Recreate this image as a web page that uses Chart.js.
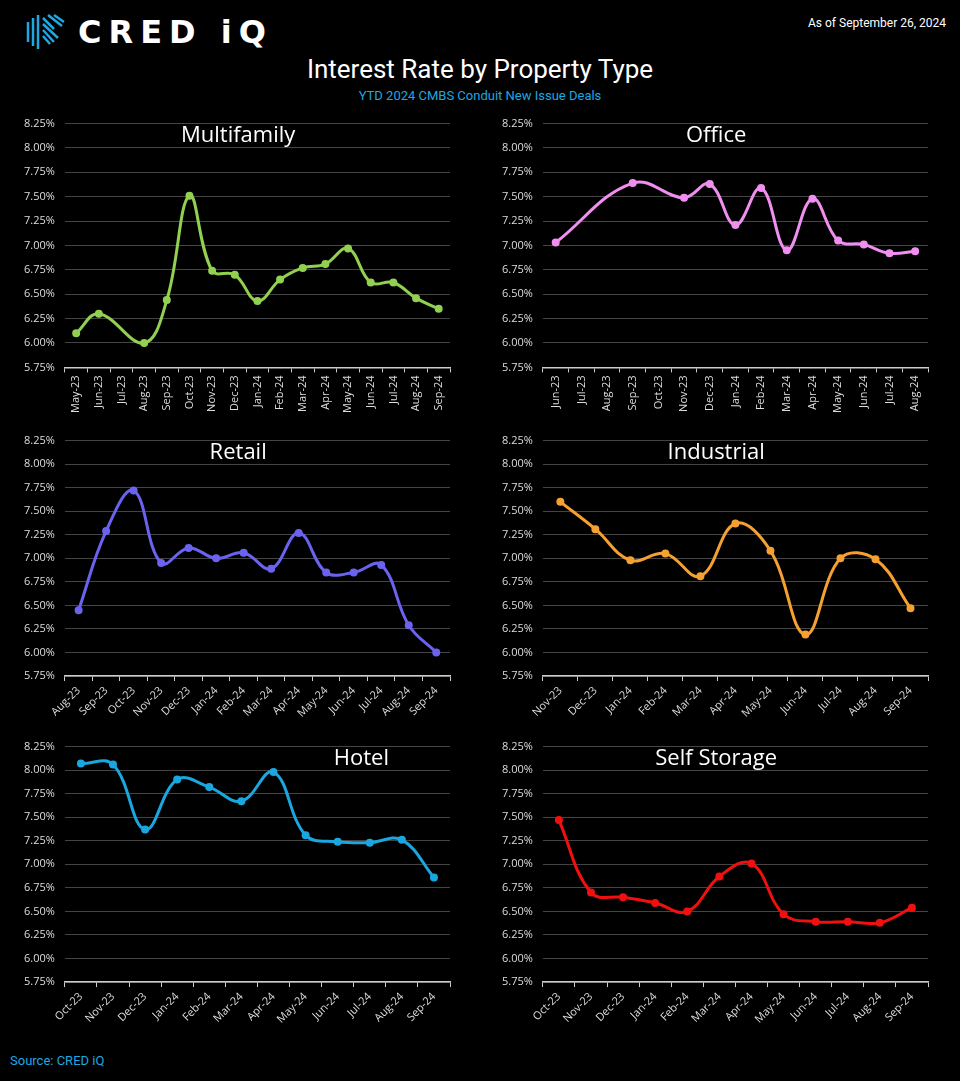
<!DOCTYPE html>
<html>
<head>
<meta charset="utf-8">
<script src="https://cdn.jsdelivr.net/npm/chart.js@4"></script>
<style>
  body { margin: 0; background: #000; width: 960px; height: 1081px; position: relative; overflow: hidden; font-family: Roboto, "Open Sans", sans-serif; }
  .box { position: absolute; }
  #logo { position: absolute; left: 24px; top: 12px; display: flex; align-items: center; gap: 10px; }
  #logoTxt { color: #fff; font-family: "DejaVu Sans", sans-serif; font-size: 32px; letter-spacing: 7px; font-weight: 600; }
  #asof { position: absolute; right: 14px; top: 16px; color: #fff; font-size: 12px; }
  #title { position: absolute; left: 0; width: 960px; top: 54px; text-align: center; color: #fff; font-size: 26px; }
  #sub { position: absolute; left: 0; width: 960px; top: 88px; text-align: center; color: #1ea7e1; font-size: 13px; }
  #src { position: absolute; left: 10px; top: 1053px; color: #1ea7e1; font-size: 13px; }
</style>
</head>
<body>
<div id="logo">
  <svg width="44" height="40" viewBox="0 0 44 40">
    <g stroke="#1ea7e1" stroke-width="2.5" fill="none">
      <path d="M4 10 L4 30 M9 6 L9 34 M14 3 L14 37 M19 6 L30 17 M19 12 L34 26 M19 18 L30 30 M19 24 L26 32 M24 3 L38 14 M30 3 L40 10"/>
    </g>
  </svg>
  <span id="logoTxt">CRED iQ</span>
</div>
<div id="asof">As of September 26, 2024</div>
<div id="title">Interest Rate by Property Type</div>
<div id="sub">YTD 2024 CMBS Conduit New Issue Deals</div>
<div id="src">Source: CRED iQ</div>

<div class="box" style="left:0;top:107px;width:470px;height:309px"><canvas id="c1"></canvas></div>
<div class="box" style="left:478px;top:107px;width:470px;height:309px"><canvas id="c2"></canvas></div>
<div class="box" style="left:0;top:424px;width:470px;height:299px"><canvas id="c3"></canvas></div>
<div class="box" style="left:478px;top:424px;width:470px;height:299px"><canvas id="c4"></canvas></div>
<div class="box" style="left:0;top:730px;width:470px;height:299px"><canvas id="c5"></canvas></div>
<div class="box" style="left:478px;top:730px;width:470px;height:299px"><canvas id="c6"></canvas></div>

<script>
const mfLabels = ['May-23','Jun-23','Jul-23','Aug-23','Sep-23','Oct-23','Nov-23','Dec-23','Jan-24','Feb-24','Mar-24','Apr-24','May-24','Jun-24','Jul-24','Aug-24','Sep-24'];
const mfValues = [6.10, 6.30, null, 6.00, 6.44, 7.51, 6.74, 6.70, 6.43, 6.65, 6.77, 6.81, 6.97, 6.62, 6.62, 6.46, 6.35];

const officeLabels = ['Jun-23','Jul-23','Aug-23','Sep-23','Oct-23','Nov-23','Dec-23','Jan-24','Feb-24','Mar-24','Apr-24','May-24','Jun-24','Jul-24','Aug-24'];
const officeValues = [7.03, null, null, 7.64, null, 7.49, 7.63, 7.21, 7.59, 6.95, 7.48, 7.05, 7.01, 6.92, 6.94];

const retailLabels = ['Aug-23','Sep-23','Oct-23','Nov-23','Dec-23','Jan-24','Feb-24','Mar-24','Apr-24','May-24','Jun-24','Jul-24','Aug-24','Sep-24'];
const retailValues = [6.45, 7.29, 7.72, 6.95, 7.11, 7.00, 7.06, 6.89, 7.27, 6.85, 6.85, 6.93, 6.29, 6.00];

const indLabels = ['Nov-23','Dec-23','Jan-24','Feb-24','Mar-24','Apr-24','May-24','Jun-24','Jul-24','Aug-24','Sep-24'];
const indValues = [7.60, 7.31, 6.98, 7.05, 6.81, 7.37, 7.08, 6.19, 7.00, 6.99, 6.47];

const hotelLabels = ['Oct-23','Nov-23','Dec-23','Jan-24','Feb-24','Mar-24','Apr-24','May-24','Jun-24','Jul-24','Aug-24','Sep-24'];
const hotelValues = [8.07, 8.06, 7.37, 7.90, 7.82, 7.67, 7.98, 7.31, 7.24, 7.23, 7.26, 6.86];

const ssLabels = ['Oct-23','Nov-23','Dec-23','Jan-24','Feb-24','Mar-24','Apr-24','May-24','Jun-24','Jul-24','Aug-24','Sep-24'];
const ssValues = [7.47, 6.70, 6.65, 6.59, 6.50, 6.87, 7.01, 6.47, 6.39, 6.39, 6.38, 6.54];

const yMin = 5.75, yMax = 8.25, yStep = 0.25;

// titre dessiné dans la zone du graphique
const panelTitle = {
  id: 'panelTitle',
  afterDraw(chart, args, opts) {
    const a = chart.chartArea, ctx = chart.ctx;
    ctx.save();
    ctx.fillStyle = '#fff';
    ctx.font = '22px "Open Sans", sans-serif';
    ctx.textAlign = 'center';
    ctx.textBaseline = 'middle';
    ctx.fillText(opts.text, a.left + (a.right - a.left) * opts.pos, a.top + 12);
    ctx.restore();
  }
};

function makeChart(id, labels, values, color, title, pos, rot) {
  new Chart(document.getElementById(id), {
    type: 'line',
    data: { labels: labels, datasets: [{
      data: values, borderColor: color, backgroundColor: color,
      borderWidth: 3, tension: 0.4, spanGaps: true,
      pointRadius: 2.5, pointHoverRadius: 2.5
    }]},
    options: {
      responsive: true, maintainAspectRatio: false, animation: false,
      layout: { padding: { left: 14, right: 20, top: 4, bottom: 0 } },
      plugins: { legend: { display: false }, tooltip: { enabled: false },
        panelTitle: { text: title, pos: pos } },
      scales: {
        y: {
          min: yMin, max: yMax,
          ticks: { stepSize: yStep, color: '#ddd', padding: 10, font: { family: '"Open Sans", sans-serif', size: 11 },
            callback: v => v.toFixed(2) + '%' },
          grid: { color: '#444', drawTicks: false },
          border: { display: false }
        },
        x: {
          ticks: { color: '#ddd', maxRotation: rot, minRotation: rot, autoSkip: false,
            font: { family: '"Open Sans", sans-serif', size: 11 } },
          grid: { display: true, drawOnChartArea: false, color: '#ccc', tickLength: 5, offset: true },
          border: { color: '#ccc', width: 1.5 },
          offset: true
        }
      }
    },
    plugins: [panelTitle]
  });
}

makeChart('c1', mfLabels, mfValues, '#92d050', 'Multifamily', 0.45, 90);
makeChart('c2', officeLabels, officeValues, '#f08ff0', 'Office', 0.45, 90);
makeChart('c3', retailLabels, retailValues, '#6b63f0', 'Retail', 0.45, 45);
makeChart('c4', indLabels, indValues, '#f5a030', 'Industrial', 0.45, 45);
makeChart('c5', hotelLabels, hotelValues, '#1aa7e0', 'Hotel', 0.77, 45);
makeChart('c6', ssLabels, ssValues, '#f01010', 'Self Storage', 0.45, 45);
</script>
</body>
</html>
